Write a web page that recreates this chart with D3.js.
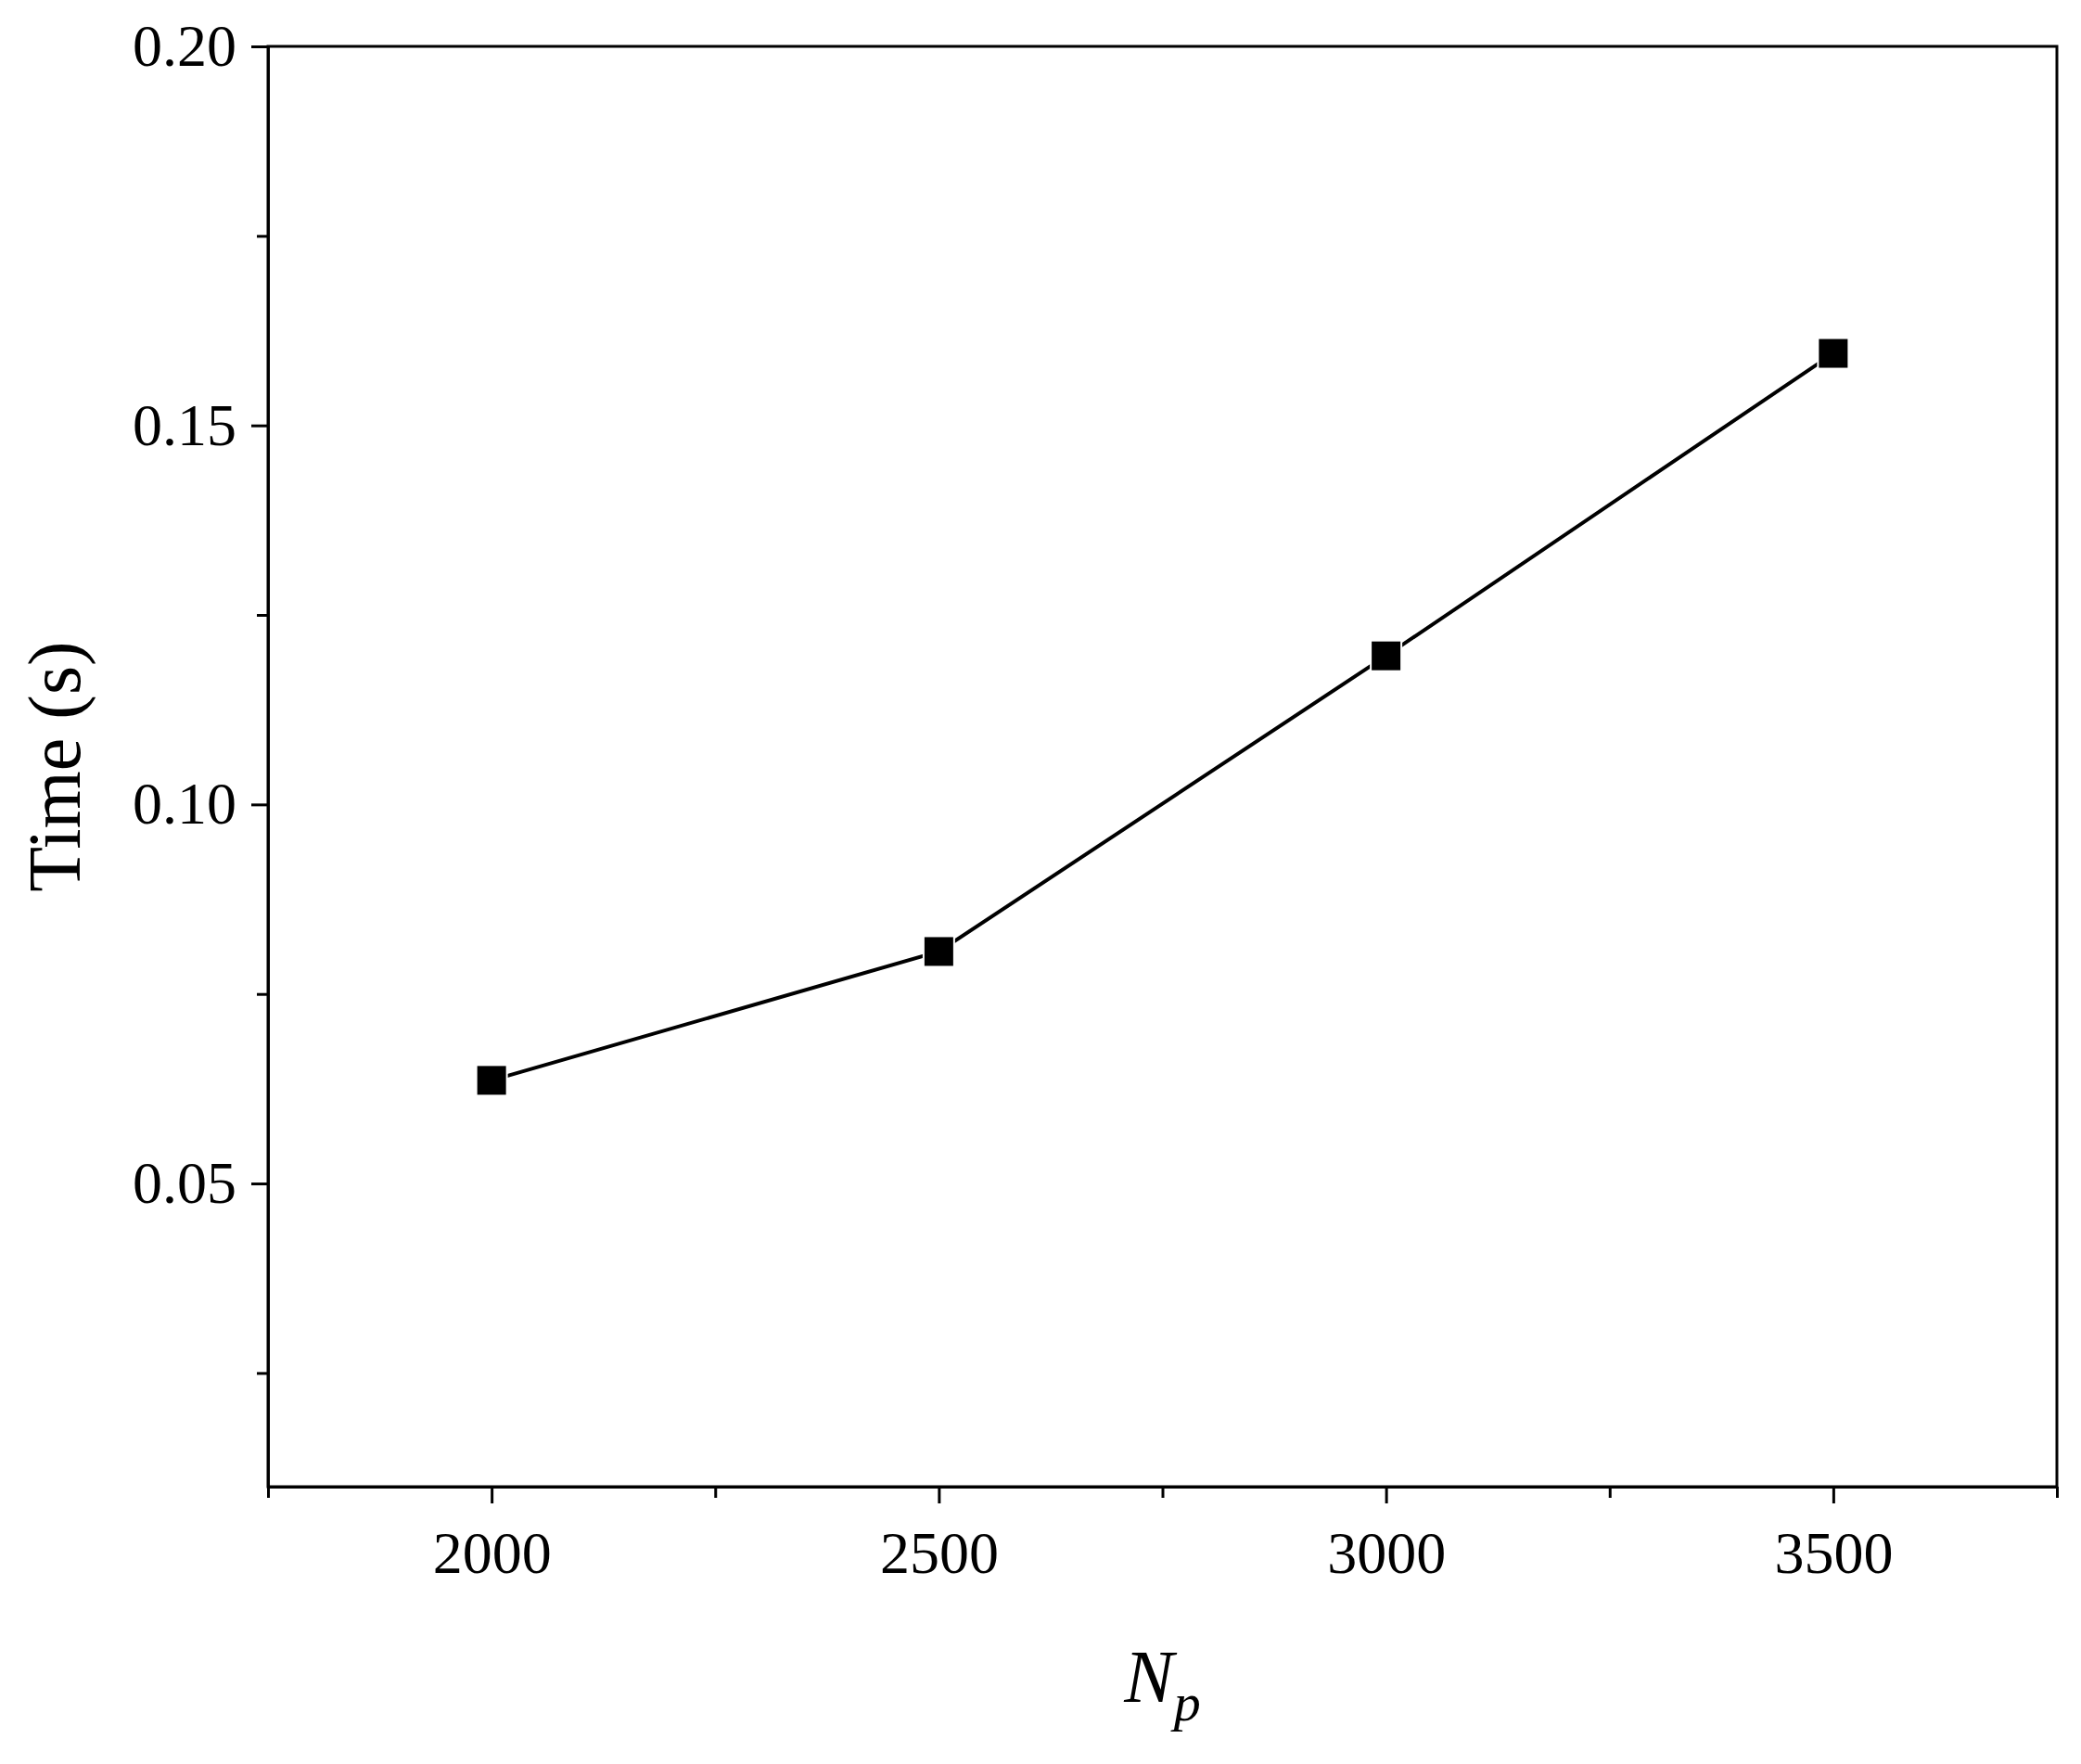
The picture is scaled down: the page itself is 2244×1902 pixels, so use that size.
<!DOCTYPE html>
<html><head><meta charset="utf-8">
<script src="https://cdn.jsdelivr.net/npm/d3@7"></script>
<style>body{margin:0;background:#fff}</style>
</head><body><svg id="c" width="2244" height="1902"></svg>
<script>
const xValues=[2000,2500,3000,3500];
const yValues=[0.0636,0.0806,0.1196,0.1595];
const xTicks=[2000,2500,3000,3500];
const xMinor=[1750,2250,2750,3250,3750];
const yTicks=[0.05,0.10,0.15,0.20];
const yMinor=[0.025,0.075,0.125,0.175];

const svg=d3.select("#c");
const L=289,R=2218,T=50,B=1603;
const x=d3.scaleLinear().domain([1750,3750]).range([L,R]);
const y=d3.scaleLinear().domain([0.01,0.20]).range([B,T]);
const font="Liberation Serif, Times New Roman, serif";

const gx=svg.append("g").attr("transform",`translate(0,${B})`)
 .call(d3.axisBottom(x).tickValues(xTicks).tickFormat(d3.format("d")).tickSize(18).tickSizeOuter(0).tickPadding(30));
const gxm=svg.append("g").attr("transform",`translate(0,${B})`)
 .call(d3.axisBottom(x).tickValues(xMinor).tickFormat("").tickSize(12).tickSizeOuter(0));
const gy=svg.append("g").attr("transform",`translate(${L},0)`)
 .call(d3.axisLeft(y).tickValues(yTicks).tickFormat(d3.format(".2f")).tickSize(18).tickSizeOuter(0).tickPadding(16));
const gym=svg.append("g").attr("transform",`translate(${L},0)`)
 .call(d3.axisLeft(y).tickValues(yMinor).tickFormat("").tickSize(12).tickSizeOuter(0));
[gx,gxm,gy,gym].forEach(g=>{g.selectAll("path,line").attr("stroke","#000").attr("stroke-width",3);
 g.selectAll("text").attr("font-family",font).attr("font-size",64).attr("fill","#000");});
svg.append("rect").attr("x",L).attr("y",T).attr("width",R-L).attr("height",B-T)
 .attr("fill","none").attr("stroke","#000").attr("stroke-width",3);

const pts=xValues.map((v,i)=>[v,yValues[i]]);
svg.append("path").datum(pts).attr("fill","none").attr("stroke","#000").attr("stroke-width",4)
 .attr("d",d3.line().x(d=>x(d[0])).y(d=>y(d[1])));
const s=33;
svg.selectAll("rect.m").data(pts).join("rect").attr("class","m")
 .attr("x",d=>x(d[0])-s/2).attr("y",d=>y(d[1])-s/2).attr("width",s).attr("height",s)
 .attr("fill","#000").attr("stroke","#fff").attr("stroke-width",2);

svg.append("text").attr("transform",`translate(86,${(T+B)/2}) rotate(-90)`)
 .attr("text-anchor","middle").attr("font-family",font).attr("font-size",80).text("Time (s)");
const t=svg.append("text").attr("x",(L+R)/2).attr("y",1835).attr("text-anchor","middle")
 .attr("font-family",font).attr("font-size",80).attr("font-style","italic");
t.append("tspan").text("N");
t.append("tspan").attr("font-size",58).attr("dy",20).text("p");
</script></body></html>
